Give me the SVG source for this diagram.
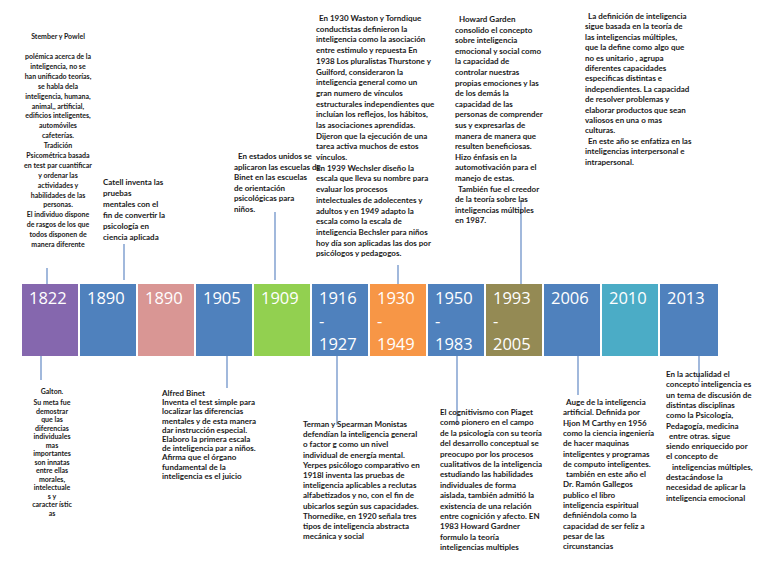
<svg xmlns="http://www.w3.org/2000/svg" width="768" height="576" viewBox="0 0 768 576">
<style>
.t{font-family:Lato,"Liberation Sans",sans-serif;font-size:8px;font-weight:700;fill:#1a1a1a}
.tc{font-family:Lato,"Liberation Sans",sans-serif;font-size:7px;font-weight:700;fill:#1a1a1a;text-anchor:middle}
.y{font-family:"Open Sans","Liberation Sans",sans-serif;font-size:16.5px;fill:#fff}
.c{stroke:#6f93c9;stroke-width:1.3;fill:none}
</style>
<rect width="768" height="576" fill="#fff"/>
<g id="connectors">
<line class="c" x1="47" y1="268" x2="47" y2="284"/>
<line class="c" x1="41" y1="356" x2="41" y2="380"/>
<line class="c" x1="124" y1="244" x2="124" y2="280"/>
<line class="c" x1="227" y1="356" x2="227" y2="388"/>
<line class="c" x1="275" y1="212" x2="275" y2="280"/>
<line class="c" x1="337" y1="356" x2="337" y2="425"/>
<line class="c" x1="398" y1="265" x2="398" y2="284"/>
<line class="c" x1="457" y1="356" x2="457" y2="425"/>
<line class="c" x1="521" y1="200" x2="521" y2="284"/>
<line class="c" x1="578" y1="356" x2="578" y2="395"/>
<line class="c" x1="699" y1="356" x2="699" y2="382"/>
</g>
<g id="y1822"><rect x="22" y="284" width="56" height="72" fill="#8567ae"/><text class="y" x="29" y="304">1822</text></g>
<g id="y1890a"><rect x="80" y="284" width="56" height="72" fill="#4f81bd"/><text class="y" x="87" y="304">1890</text></g>
<g id="y1890b"><rect x="138" y="284" width="56" height="72" fill="#d99694"/><text class="y" x="145" y="304">1890</text></g>
<g id="y1905"><rect x="196" y="284" width="56" height="72" fill="#4f81bd"/><text class="y" x="203" y="304">1905</text></g>
<g id="y1909"><rect x="254" y="284" width="56" height="72" fill="#92d050"/><text class="y" x="261" y="304">1909</text></g>
<g id="y1916"><rect x="312" y="284" width="56" height="72" fill="#4f81bd"/><text class="y" x="319" y="304">1916<tspan x="319" dy="23">-</tspan><tspan x="319" dy="23">1927</tspan></text></g>
<g id="y1930"><rect x="370" y="284" width="56" height="72" fill="#f79646"/><text class="y" x="377" y="304">1930<tspan x="377" dy="23">-</tspan><tspan x="377" dy="23">1949</tspan></text></g>
<g id="y1950"><rect x="428" y="284" width="56" height="72" fill="#4f81bd"/><text class="y" x="435" y="304">1950<tspan x="435" dy="23">-</tspan><tspan x="435" dy="23">1983</tspan></text></g>
<g id="y1993"><rect x="486" y="284" width="56" height="72" fill="#948a54"/><text class="y" x="493" y="304">1993<tspan x="493" dy="23">-</tspan><tspan x="493" dy="23">2005</tspan></text></g>
<g id="y2006"><rect x="544" y="284" width="56" height="72" fill="#4f81bd"/><text class="y" x="551" y="304">2006</text></g>
<g id="y2010"><rect x="602" y="284" width="56" height="72" fill="#4bacc6"/><text class="y" x="609" y="304">2010</text></g>
<g id="y2013"><rect x="660" y="284" width="58" height="72" fill="#4f81bd"/><text class="y" x="667" y="304">2013</text></g>
<g id="n-stember"><text class="tc" x="58" y="39">Stember y Powlel<tspan x="58" dy="20">polémica acerca de la</tspan><tspan x="58" dy="9.9">inteligencia, no se</tspan><tspan x="58" dy="9.9">han unificado teorías,</tspan><tspan x="58" dy="9.9">se habla dela</tspan><tspan x="58" dy="9.9">inteligencia,  humana,</tspan><tspan x="58" dy="9.9">animal,, artificial,</tspan><tspan x="58" dy="9.9">edificios inteligentes,</tspan><tspan x="58" dy="9.9">automóviles</tspan><tspan x="58" dy="9.9">cafeterías.</tspan><tspan x="58" dy="9.9">Tradición</tspan><tspan x="58" dy="9.9">Psicométrica basada</tspan><tspan x="58" dy="9.9">en test par cuantificar</tspan><tspan x="58" dy="9.9">y  ordenar las</tspan><tspan x="58" dy="9.9">actividades y</tspan><tspan x="58" dy="9.9">habilidades de las</tspan><tspan x="58" dy="9.9">personas.</tspan><tspan x="58" dy="9.9">El individuo dispone</tspan><tspan x="58" dy="9.9">de rasgos de los que</tspan><tspan x="58" dy="9.9">todos disponen de</tspan><tspan x="58" dy="9.9">manera diferente</tspan></text></g>
<g id="n-catell"><text class="t" x="103" y="185">Catell inventa las<tspan x="103" dy="11">pruebas</tspan><tspan x="103" dy="11">mentales con el</tspan><tspan x="103" dy="11">fin de convertir la</tspan><tspan x="103" dy="11">psicología en</tspan><tspan x="103" dy="11">ciencia aplicada</tspan></text></g>
<g id="n-1909"><text class="t" x="238" y="159">En estados unidos se<tspan x="234" dy="10.6">aplicaron las escuelas de</tspan><tspan x="234" dy="10.6">Binet en las escuelas</tspan><tspan x="234" dy="10.6">de orientación</tspan><tspan x="234" dy="10.6">psicológicas para</tspan><tspan x="234" dy="10.6">niños.</tspan></text></g>
<g id="n-1930"><text class="t" x="319" y="21">En 1930 Waston y Torndique<tspan x="316" dy="10.7">conductistas definieron  la</tspan><tspan x="316" dy="10.7">inteligencia como la asociación</tspan><tspan x="316" dy="10.7">entre estimulo y repuesta En</tspan><tspan x="316" dy="10.7">1938  Los pluralistas Thurstone y</tspan><tspan x="316" dy="10.7">Guilford, consideraron la</tspan><tspan x="316" dy="10.7">inteligencia general  como   un</tspan><tspan x="316" dy="10.7">gran numero de vínculos</tspan><tspan x="316" dy="10.7">estructurales independientes que</tspan><tspan x="316" dy="10.7">incluían  los reflejos, los hábitos,</tspan><tspan x="316" dy="10.7">las asociaciones aprendidas.</tspan><tspan x="316" dy="10.7">Dijeron que  la ejecución de una</tspan><tspan x="316" dy="10.7">tarea activa muchos de estos</tspan><tspan x="316" dy="10.7">vínculos.</tspan><tspan x="316" dy="10.7">En  1939 Wechsler  diseño la</tspan><tspan x="316" dy="10.7">escala que lleva su nombre para</tspan><tspan x="316" dy="10.7">evaluar los procesos</tspan><tspan x="316" dy="10.7">intelectuales de adolecentes y</tspan><tspan x="316" dy="10.7">adultos y en 1949 adapto la</tspan><tspan x="316" dy="10.7">escala como la escala de</tspan><tspan x="316" dy="10.7">inteligencia  Bechsler para niños</tspan><tspan x="316" dy="10.7">hoy día  son aplicadas las dos por</tspan><tspan x="316" dy="10.7">psicólogos y pedagogos.</tspan></text></g>
<g id="n-howard"><text class="t" x="459" y="22">Howard Garden<tspan x="455" dy="10.6">consolido el concepto</tspan><tspan x="455" dy="10.6">sobre inteligencia</tspan><tspan x="455" dy="10.6">emocional y social como</tspan><tspan x="455" dy="10.6">la capacidad de</tspan><tspan x="455" dy="10.6">controlar nuestras</tspan><tspan x="455" dy="10.6">propias emociones y las</tspan><tspan x="455" dy="10.6">de los demás la</tspan><tspan x="455" dy="10.6">capacidad de las</tspan><tspan x="455" dy="10.6">personas de comprender</tspan><tspan x="455" dy="10.6">sus y expresarlas de</tspan><tspan x="455" dy="10.6">manera de manera que</tspan><tspan x="455" dy="10.6">resulten beneficiosas.</tspan><tspan x="455" dy="10.6">Hizo énfasis en la</tspan><tspan x="455" dy="10.6">automotivación para el</tspan><tspan x="455" dy="10.6">manejo de estas.</tspan><tspan x="458" dy="10.6">También fue el creedor</tspan><tspan x="455" dy="10.6">de la teoría sobre las</tspan><tspan x="455" dy="10.6">inteligencias múltiples</tspan><tspan x="455" dy="10.6">en 1987.</tspan></text></g>
<g id="n-2010"><text class="t" x="588" y="19">La definición   de inteligencia<tspan x="585" dy="10.4">sigue basada en la teoría de</tspan><tspan x="585" dy="10.4">las inteligencias múltiples,</tspan><tspan x="585" dy="10.4">que la define como algo que</tspan><tspan x="585" dy="10.4">no es unitario , agrupa</tspan><tspan x="585" dy="10.4">diferentes capacidades</tspan><tspan x="585" dy="10.4">especificas distintas e</tspan><tspan x="585" dy="10.4">independientes. La capacidad</tspan><tspan x="585" dy="10.4">de  resolver problemas y</tspan><tspan x="585" dy="10.4">elaborar productos que sean</tspan><tspan x="585" dy="10.4">valiosos en una o mas</tspan><tspan x="585" dy="10.4">culturas.</tspan><tspan x="588" dy="10.4">En este año se enfatiza en las</tspan><tspan x="585" dy="10.4">inteligencias interpersonal e</tspan><tspan x="585" dy="10.4">intrapersonal.</tspan></text></g>
<g id="n-galton"><text class="tc" x="52" y="394">Galton.<tspan x="52" dy="11">Su meta fue</tspan><tspan x="52" dy="8.5">demostrar</tspan><tspan x="52" dy="8.5">que las</tspan><tspan x="52" dy="8.5">diferencias</tspan><tspan x="52" dy="8.5">individuales</tspan><tspan x="52" dy="8.5">mas</tspan><tspan x="52" dy="8.5">importantes</tspan><tspan x="52" dy="8.5">son innatas</tspan><tspan x="52" dy="8.5">entre ellas</tspan><tspan x="52" dy="8.5">morales,</tspan><tspan x="52" dy="8.5">intelectuale</tspan><tspan x="52" dy="8.5">s y</tspan><tspan x="52" dy="8.5">caracter ístic</tspan><tspan x="52" dy="8.5">as</tspan></text></g>
<g id="n-binet"><text class="t" x="162" y="396">Alfred Binet<tspan x="162" dy="9.2">Inventa el test simple para</tspan><tspan x="162" dy="9.2">localizar las   diferencias</tspan><tspan x="162" dy="9.2">mentales y de esta manera</tspan><tspan x="162" dy="9.2">dar instrucción especial.</tspan><tspan x="162" dy="9.2">Elaboro la primera escala</tspan><tspan x="162" dy="9.2">de inteligencia  par a niños.</tspan><tspan x="162" dy="9.2">Afirma que el  órgano</tspan><tspan x="162" dy="9.2">fundamental de la</tspan><tspan x="162" dy="9.2">inteligencia es el juicio</tspan></text></g>
<g id="n-terman"><text class="t" x="303" y="427">Terman y  Spearman Monistas<tspan x="303" dy="10.2">defendían la inteligencia  general</tspan><tspan x="303" dy="10.2">o factor g  como un nivel</tspan><tspan x="303" dy="10.2">individual de energía mental.</tspan><tspan x="303" dy="10.2">Yerpes psicólogo comparativo en</tspan><tspan x="303" dy="10.2">1918l inventa las pruebas de</tspan><tspan x="303" dy="10.2">inteligencia aplicables a reclutas</tspan><tspan x="303" dy="10.2">alfabetizados y no, con el fin de</tspan><tspan x="303" dy="10.2">ubicarlos según sus capacidades.</tspan><tspan x="303" dy="10.2">Thornedike, en 1920 señala tres</tspan><tspan x="303" dy="10.2">tipos de inteligencia abstracta</tspan><tspan x="303" dy="10.2">mecánica y social</tspan></text></g>
<g id="n-piaget"><text class="t" x="440" y="415">El cognitivismo con Piaget<tspan x="440" dy="10.4">como pionero en  el campo</tspan><tspan x="440" dy="10.4">de la psicología  con su teoría</tspan><tspan x="440" dy="10.4">del desarrollo conceptual se</tspan><tspan x="440" dy="10.4">preocupo por  los procesos</tspan><tspan x="440" dy="10.4">cualitativos de la inteligencia</tspan><tspan x="440" dy="10.4">estudiando las habilidades</tspan><tspan x="440" dy="10.4">individuales de forma</tspan><tspan x="440" dy="10.4">aislada, también  admitió la</tspan><tspan x="440" dy="10.4">existencia de una relación</tspan><tspan x="440" dy="10.4">entre cognición y afecto. EN</tspan><tspan x="440" dy="10.4">1983 Howard Gardner</tspan><tspan x="440" dy="10.4">formulo la teoría</tspan><tspan x="440" dy="10.4">inteligencias multiples</tspan></text></g>
<g id="n-auge"><text class="t" x="566" y="405">Auge de la inteligencia<tspan x="563" dy="10.3">artificial. Definida por</tspan><tspan x="563" dy="10.3">Hjon M Carthy en 1956</tspan><tspan x="563" dy="10.3">como la ciencia ingeniería</tspan><tspan x="563" dy="10.3">de hacer maquinas</tspan><tspan x="563" dy="10.3">inteligentes y programas</tspan><tspan x="563" dy="10.3">de computo inteligentes.</tspan><tspan x="566" dy="10.3">también en este año el</tspan><tspan x="563" dy="10.3">Dr. Ramón Gallegos</tspan><tspan x="563" dy="10.3">publico el libro</tspan><tspan x="563" dy="10.3">inteligencia espiritual</tspan><tspan x="563" dy="10.3">definiéndola como  la</tspan><tspan x="563" dy="10.3">capacidad de ser feliz a</tspan><tspan x="563" dy="10.3">pesar de las</tspan><tspan x="563" dy="10.3">circunstancias</tspan></text></g>
<g id="n-2013"><text class="t" x="666" y="377">En la actualidad el<tspan x="666" dy="10.3">concepto inteligencia es</tspan><tspan x="666" dy="10.3">un tema de discusión de</tspan><tspan x="666" dy="10.3">distintas disciplinas</tspan><tspan x="666" dy="10.3">como la Psicología,</tspan><tspan x="666" dy="10.3">Pedagogía, medicina</tspan><tspan x="669" dy="10.3">entre otras. sigue</tspan><tspan x="666" dy="10.3">siendo enriquecido por</tspan><tspan x="666" dy="10.3">el concepto de</tspan><tspan x="672" dy="10.3">inteligencias múltiples,</tspan><tspan x="666" dy="10.3">destacándose la</tspan><tspan x="666" dy="10.3">necesidad de  aplicar la</tspan><tspan x="666" dy="10.3">inteligencia emocional</tspan></text></g>
</svg>
